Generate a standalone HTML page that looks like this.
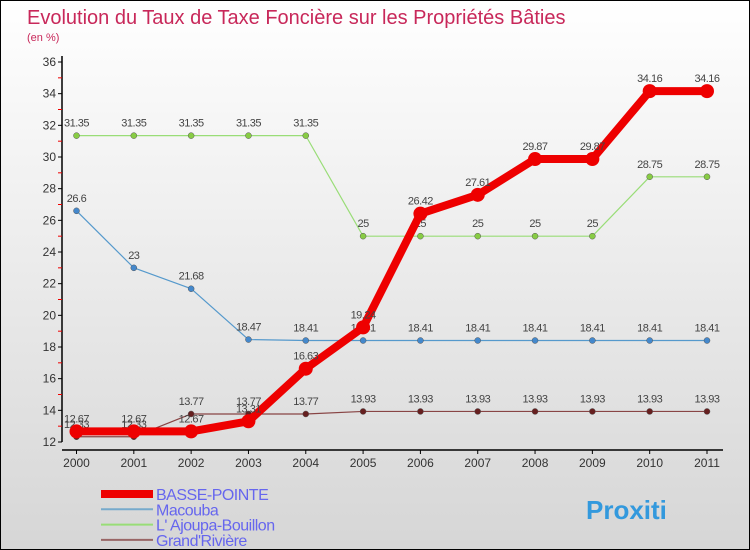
<!DOCTYPE html>
<html><head><meta charset="utf-8"><style>
body{margin:0}
#c{width:750px;height:550px;position:relative;box-sizing:border-box;border:1px solid #000;background:linear-gradient(#ffffff,#d6d6d6);font-family:"Liberation Sans",sans-serif;overflow:hidden}
</style></head><body>
<div id="c">
<svg id="s" width="750" height="550" style="position:absolute;left:0;top:0">
<text x="26" y="23" font-size="20" fill="#c8285a">Evolution du Taux de Taxe Foncière sur les Propriétés Bâties</text>
<text x="26" y="40" font-size="11" fill="#c8285a">(en %)</text>
</svg>
</div>
<script>
const years=["2000","2001","2002","2003","2004","2005","2006","2007","2008","2009","2010","2011"];
const basse=[12.67,12.67,12.67,13.31,16.63,19.24,26.42,27.61,29.87,29.87,34.16,34.16];
const macouba=[26.6,23,21.68,18.47,18.41,18.41,18.41,18.41,18.41,18.41,18.41,18.41];
const ajoupa=[31.35,31.35,31.35,31.35,31.35,25,25,25,25,25,28.75,28.75];
const grand=[12.33,12.33,13.77,13.77,13.77,13.93,13.93,13.93,13.93,13.93,13.93,13.93];
const yTicks=[12,14,16,18,20,22,24,26,28,30,32,34,36];
const NS="http://www.w3.org/2000/svg";const s=document.getElementById('s');
const X=i=>75.5+i*(706-75.5)/11;const Y=v=>441-(v-12)*(441-61)/24;
function el(t,a,p){const e=document.createElementNS(NS,t);for(const k in a)e.setAttribute(k,a[k]);(p||s).appendChild(e);return e;}
let e=el('line',{x1:61,y1:55,x2:61,y2:441,stroke:'#000','stroke-width':1.5});

e=el('line',{x1:61,y1:449,x2:722,y2:449,stroke:'#000','stroke-width':1.5});

yTicks.forEach((v,k)=>{
 e=el('line',{x1:57,y1:Y(v),x2:61,y2:Y(v),stroke:'#000'});
 
 if(k<yTicks.length-1){e=el('line',{x1:57,y1:Y(v+1),x2:61,y2:Y(v+1),stroke:'#e00'});
 }
 e=el('text',{x:55,y:Y(v)+4,'font-size':12,'text-anchor':'end',fill:'#333'});e.textContent=v;
 
});
years.forEach((y,i)=>{
 e=el('line',{x1:X(i),y1:449,x2:X(i),y2:453,stroke:'#000'});
 
 e=el('text',{x:X(i),y:466,'font-size':12,'text-anchor':'middle',fill:'#333'});e.textContent=y;
 
});
function series(vals,col,w,r,name,dot){
 const g=el('g',{});
 let p=el('polyline',{points:vals.map((v,i)=>X(i)+','+Y(v)).join(' '),fill:'none',stroke:col,'stroke-width':w,'stroke-linejoin':'round'},g);
 
 vals.forEach((v,i)=>{
  let c=el('circle',{cx:X(i),cy:Y(v),r:r,fill:dot,stroke:r>4?'none':'#555','stroke-width':0.5},g);
  
  let t=el('text',{x:X(i),y:Y(v)-9,'font-size':11,'text-anchor':'middle',fill:'#444','letter-spacing':'-0.5'},g);t.textContent=v;
  
 });
}
series(ajoupa,'#99dd77',1.2,3,'ajoupa','#88cc44');
series(macouba,'#5599cc',1.2,3,'macouba','#4488cc');
series(grand,'#884444',1.2,3,'grand-riviere','#661f1f');
series(basse,'#ee0000',8,7,'basse-pointe','#ee0000');
const leg=[["BASSE-POINTE","#ee0000",8],["Macouba","#77aacc",2],["L' Ajoupa-Bouillon","#99dd77",2],["Grand'Rivière","#996666",2]];
leg.forEach((l,k)=>{const yy=493+k*15.3;
 e=el('line',{x1:100,y1:yy,x2:152,y2:yy,stroke:l[1],'stroke-width':l[2]});
 
 e=el('text',{x:155,y:yy+6,'font-size':16,fill:'#6666ee','letter-spacing':'-0.5'});e.textContent=l[0];
 
});
e=el('text',{x:585,y:518,'font-size':26,'font-weight':'bold',fill:'#3399dd'});e.textContent='Proxiti';

</script>
</body></html>
